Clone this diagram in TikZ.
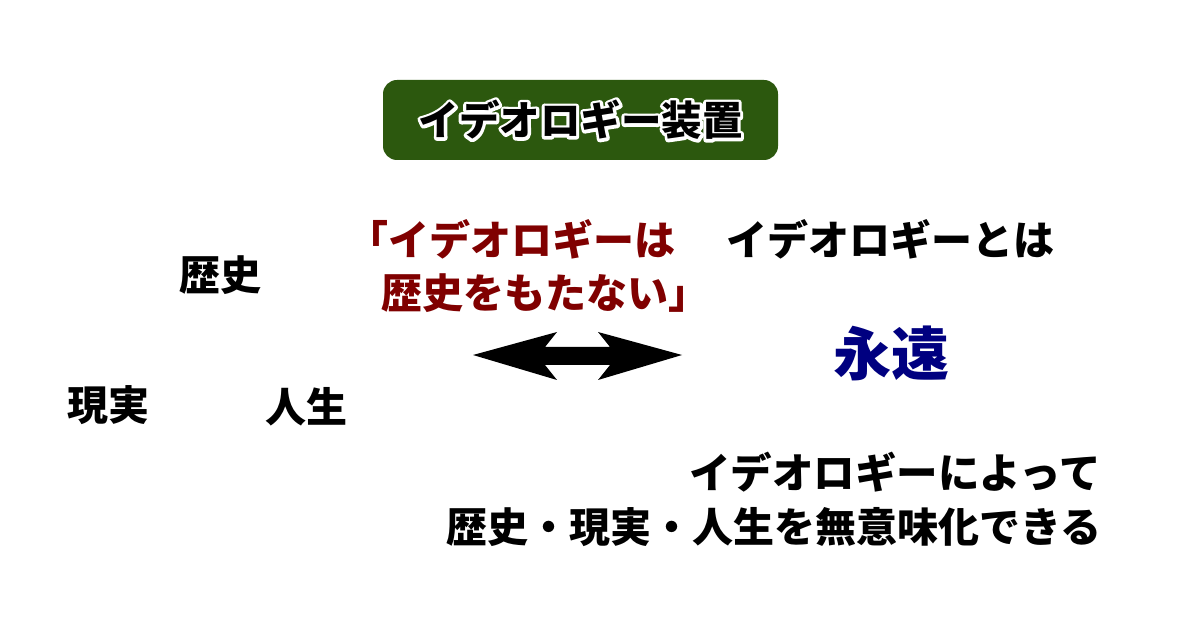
\documentclass[tikz,border=0pt]{standalone}
\usepackage{fontspec}
\setmainfont{Noto Sans CJK JP}
\usepackage{tikz}
\usetikzlibrary{positioning}
\definecolor{boxgreen}{RGB}{44,88,14}
\definecolor{quotered}{RGB}{128,0,0}
\definecolor{eternalblue}{RGB}{0,0,128}
% white edge round the title letters
\newcommand\whiteedge[1]{\special{pdf:literal direct 1 j 6 w 1 G 2 Tr}\textcolor{white}{#1}\special{pdf:literal direct 0 Tr}}

\begin{document}
\begin{tikzpicture}[
x=1pt,y=-1pt,
word/.style={
  inner sep=0pt,
  font=\bfseries\fontsize{41pt}{48pt}\selectfont
  },
titletext/.style={
  inner sep=0pt,
  font=\bfseries\fontsize{40.5pt}{46pt}\selectfont
  }
]
\useasboundingbox[fill=white] (0,0) rectangle (1200,628);
% title box
\node[fill=boxgreen,rounded corners=14pt,minimum width=395pt,minimum height=80pt] (titlebox) at (580.5,120) {};
\node[titletext] (title) at (titlebox.center) {\rlap{\whiteedge{イデオロギー装置}}イデオロギー装置};
% left words
\node[word] (history) at (220,275) {歴史};
\node[word] (reality) at (108,405) {現実};
\node[word] (life) at (306,407) {人生};
% quote
\node[word,quotered,align=left,anchor=west,font=\bfseries\fontsize{41pt}{53pt}\selectfont] (quote) at (347,266.5)
  {「イデオロギーは\\\hspace{34pt}歴史をもたない」};
% arrow
\fill (473,355) -- (557,332) -- (545,347) -- (610,347) -- (598,332) -- (682,355)
  -- (598,380) -- (610,365) -- (545,365) -- (557,380) -- cycle;
% right side
\node[word] (whatis) at (890,239) {イデオロギーとは};
\node[word,eternalblue,font=\bfseries\fontsize{58pt}{64pt}\selectfont] (eternal) at (891,353) {永遠};
\node[word,anchor=east,font=\bfseries\fontsize{41.5pt}{48pt}\selectfont] (by) at (1101,472) {イデオロギーによって};
\node[word,anchor=east] (meaningless) at (1102,527) {歴史・現実・人生を無意味化できる};
\end{tikzpicture}
\end{document}
